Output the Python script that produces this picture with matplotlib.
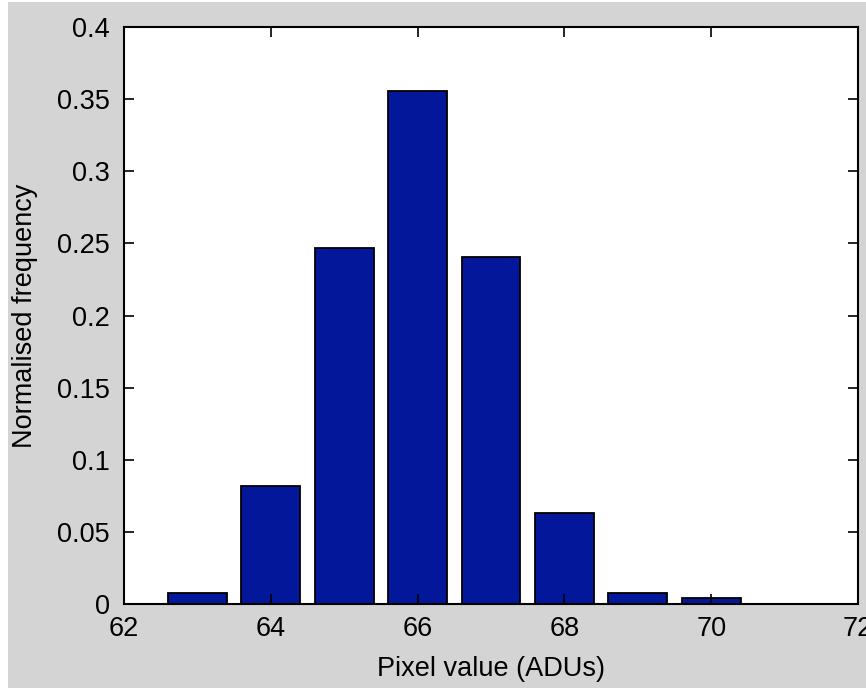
"""Histogram of pixel values (normalised) drawn as a bar chart."""

import matplotlib
matplotlib.use("Agg")
import matplotlib.pyplot as plt  # noqa: E402
from matplotlib.patches import Rectangle  # noqa: E402
from matplotlib.transforms import blended_transform_factory  # noqa: E402

pixel_values = [63, 64, 65, 66, 67, 68, 69, 70]
norm_freq = [0.0074, 0.0818, 0.2468, 0.3555, 0.2408, 0.0633, 0.0074, 0.0040]
x_ticks = [62, 64, 66, 68, 70, 72]
y_ticks = [0, 0.05, 0.1, 0.15, 0.2, 0.25, 0.3, 0.35, 0.4]
y_tick_labels = ["0", "0.05", "0.1", "0.15", "0.2", "0.25", "0.3", "0.35", "0.4"]

BAR = "#03179b"
BG = "#d4d4d4"

plt.rcParams.update({"font.family": ["Liberation Sans", "DejaVu Sans"], "font.size": 19.5})

fig = plt.figure(figsize=(8.66, 6.91), dpi=100, facecolor="white")
# grey figure panel, with a thin white margin on the left and bottom
fig.patches.append(Rectangle((8 / 866, 3 / 691), 1, 1 - 5 / 691, transform=fig.transFigure,
                             facecolor=BG, edgecolor="none", zorder=-10))

ax = fig.add_axes([124 / 866, 1 - 604 / 691, (858 - 124) / 866, (604 - 27) / 691])
ax.bar(pixel_values, norm_freq, width=0.8, color=BAR, edgecolor="black", linewidth=1.3)

ax.set_xlim(62, 72)
ax.set_ylim(0, 0.4)
ax.set_xticks(x_ticks)
ax.set_yticks(y_ticks)
ax.set_yticklabels(y_tick_labels)
ax.tick_params(direction="in", length=7, width=1.2, top=True, right=True)
ax.tick_params(axis="x", pad=9)
ax.tick_params(axis="y", pad=10)
for sp in ax.spines.values():
    sp.set_linewidth(1.5)

ax.set_xlabel("Pixel value (ADUs)", labelpad=10)
ax.set_ylabel("Normalised frequency")
# y label sits a fixed distance from the figure's left edge, centred on the axes
ax.yaxis.set_label_coords(38 / 866, 0.5,
                          transform=blended_transform_factory(fig.transFigure, ax.transAxes))

fig.savefig("out.png", dpi=100, facecolor=fig.get_facecolor())
